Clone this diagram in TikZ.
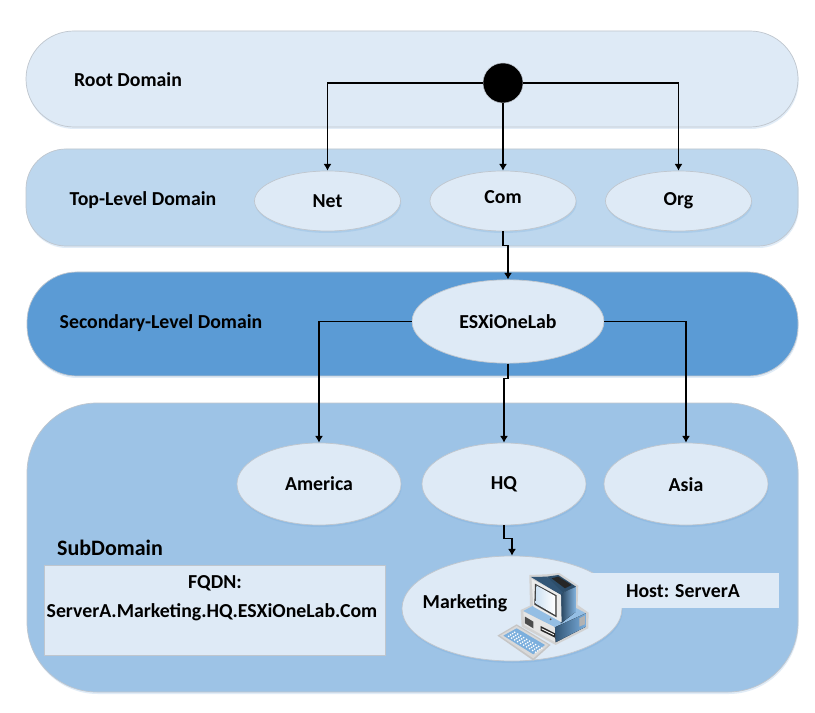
\documentclass[tikz,border=0pt]{standalone}
\usepackage{fontspec}
\setmainfont{Carlito}
\usetikzlibrary{shapes.geometric,shadows,arrows.meta}

\definecolor{paleblue}{HTML}{DEEAF6}
\definecolor{lightblue}{HTML}{BDD7EE}
\definecolor{midblue}{HTML}{5B9BD5}
\definecolor{softblue}{HTML}{9DC3E6}
\definecolor{edgegray}{HTML}{BFC6CE}

\tikzset{
    softshadow/.style={drop shadow={shadow xshift=0.02cm, shadow yshift=-0.06cm, opacity=0.18, fill=midblue}},
    band/.style={draw=edgegray, line width=0.6pt, softshadow},
    zone/.style={shape=ellipse, draw=edgegray, line width=0.6pt, fill=paleblue, softshadow, inner sep=0pt,
        minimum width=#1*0.03cm, font=\bfseries\fontsize{16.9}{20}\selectfont},
    tag/.style={inner sep=0pt, font=\bfseries\fontsize{16.9}{20}\selectfont},
    link/.style={-{Latex[length=0.2cm,width=0.24cm]}, line width=1.05pt},
}

\begin{document}
\begin{tikzpicture}[x=0.03cm, y=-0.03cm]
\useasboundingbox (0,0) rectangle (815,713);

% ==== DOMAIN BANDS ====
\fill[white] (0,0) rectangle (815,713);
\draw[band, fill=paleblue, rounded corners=1.44cm] (26,31) rectangle (798,127);
\draw[band, fill=lightblue, rounded corners=1.2cm] (26,149) rectangle (798,246);
\draw[band, fill=midblue, rounded corners=1.5cm] (27,272) rectangle (798,376);
\draw[band, fill=softblue, rounded corners=2.1cm] (27,403) rectangle (798,692);

% ==== BAND LABELS ====
\node[tag] (rootlabel) at (128,79.5) {Root Domain};
\node[tag] (toplabel) at (143,200) {Top-Level Domain};
\node[tag] (secondlabel) at (161,323.5) {Secondary-Level Domain};
\node[tag, font=\bfseries\fontsize{18.8}{22}\selectfont] (sublabel) at (110,547.5) {SubDomain};

% ==== ZONES ====
\node[shape=circle, fill=black, draw=edgegray, line width=0.4pt, minimum size=1.2cm, inner sep=0pt] (root) at (503,83) {};
\foreach \zname/\ztext/\zx in {net/Net/327.5, com/\raisebox{-2.3pt}[0pt][0pt]{Com}/503, org/Org/678.5}{
    \node[zone=146, minimum height=1.8cm] (\zname) at (\zx,201) {\ztext};
}
\node[zone=192, minimum height=2.5cm] (esxi) at (508,321.5) {ESXiOneLab};
\foreach \zname/\ztext/\zx in {america/America/319, hq/HQ/504, asia/\raisebox{-6pt}[0pt][0pt]{Asia}/686}{
    \node[zone=164, minimum height=2.46cm] (\zname) at (\zx,484) {\ztext};
}
\node[zone=220, minimum height=3.15cm] (marketing) at (512,608.5) {};
\node[tag] (marketinglabel) at (465,603) {Marketing};

% ==== FQDN AND HOST ====
\draw[draw=edgegray, line width=0.6pt, fill=paleblue] (44.5,565.5) rectangle (385,655);
\node[tag] (fqdnhead) at (215,583) {FQDN:};
\node[tag] (fqdnname) at (212,612) {ServerA.Marketing.HQ.ESXiOneLab.Com};
\fill[paleblue] (590,573) rectangle (779,608);
\node[tag] (hostlabel) at (683,591) {Host: ServerA};

% ==== CONNECTORS ====
\draw[link] (root.west) -| (net.north);
\draw[link] (root.south) -- (com.north);
\draw[link] (root.east) -| (org.north);
\draw[link] (com.south) -- ++(0,14) -| (esxi.north);
\draw[link] (esxi.west) -| (america.north);
\draw[link] (esxi.south) -- ++(0,15) -| (hq.north);
\draw[link] (esxi.east) -| (asia.north);
\draw[link] (hq.south) -- ++(0,13) -| (marketing.north);

% ==== COMPUTER ====
\begin{scope}[shift={(490,565)}, x=0.01cm, y=-0.01cm, line join=round]
    % halo
    \fill[gray!35] (92,135) -- (120,122) -- (118,30) -- (170,28) -- (208,24) -- (265,62) -- (263,120) -- (296,143) -- (295,190) -- (197,240) -- (95,185) -- cycle;
    \fill[gray!45] (22,212) -- (80,178) -- (182,240) -- (130,287) -- cycle;
    % base
    \fill[midblue!65!white] (100,138) -- (130,122) -- (205,165) -- (245,122) -- (288,145) -- (195,187) -- cycle;
    \fill[gray!20] (100,140) -- (195,187) -- (197,232) -- (103,180) -- cycle;
    \fill[left color=midblue!55!black, right color=midblue!80!white] (195,187) -- (288,145) -- (288,185) -- (197,232) -- cycle;
    \fill[black!70] (105,155) -- (130,170) -- (130,190) -- (105,175) -- cycle;
    \fill[black!85] (152,183) -- (195,205) -- (195,218) -- (152,197) -- cycle;
    \fill[white] (155,190) -- (192,208) -- (192,211) -- (155,193) -- cycle;
    \fill[gray!60] (268,160) -- (285,152) -- (285,178) -- (268,185) -- cycle;
    % monitor
    \fill[left color=midblue!45!black, right color=midblue!75!white] (213,85) -- (258,65) -- (258,140) -- (213,175) -- cycle;
    \fill[midblue!50!black] (170,35) -- (205,30) -- (258,65) -- (213,85) -- cycle;
    \fill[black!85] (185,40) -- (205,35) -- (245,60) -- (225,70) -- cycle;
    \fill[midblue!55!black] (123,36) -- (170,35) -- (218,82) -- (213,90) -- cycle;
    \fill[gray!15] (125,42) -- (213,90) -- (215,172) -- (130,125) -- cycle;
    \fill[black!75] (135,56) -- (200,91) -- (200,157) -- (133,119) -- cycle;
    \fill[left color=midblue!30!white, right color=white] (139,61) -- (196,93) -- (196,150) -- (137,116) -- cycle;
    \fill[black!70] (182,163) circle[radius=3];
    % keyboard
    \fill[gray!30] (30,212) -- (80,183) -- (175,240) -- (130,280) -- cycle;
    \fill[midblue!80!white] (40,212) -- (80,190) -- (165,240) -- (130,268) -- cycle;
    \foreach \i in {0,...,9}{
        \foreach \j in {0,...,3}{
            \fill[white] ({56+9*\i+6*\j},{214+5.3*\i-4*\j}) circle[radius=2.8];
        }
    }
\end{scope}

\end{tikzpicture}
\end{document}
